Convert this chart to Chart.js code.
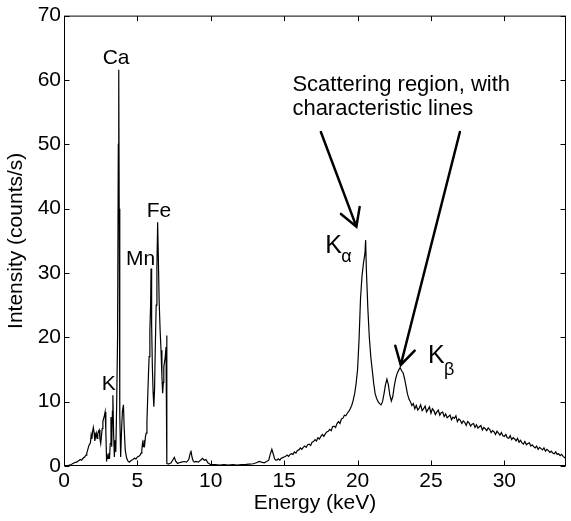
<!DOCTYPE html>
<html>
<head>
<meta charset="utf-8">
<script src="https://cdn.jsdelivr.net/npm/chart.js@4.4.1/dist/chart.umd.min.js"></script>
<style>
  html, body { margin: 0; padding: 0; background: #fff; }
  #wrap { width: 571px; height: 521px; }
</style>
</head>
<body>
<div id="wrap"><canvas id="spectrum" width="571" height="521"></canvas></div>
<script>
// tick labels
const energyTicks = [0, 5, 10, 15, 20, 25, 30];
const intensityTicks = [0, 10, 20, 30, 40, 50, 60, 70];

// fluorescence lines (keV / counts per s)
const lowEnergy = [
  0.0, 0.15, 0.3, 0.45, 0.55, 0.7, 0.85, 1.0, 1.1, 1.2, 1.3, 1.4, 1.5, 1.55, 1.6, 1.7, 1.8, 1.85, 1.9, 1.95,
  2.0, 2.05, 2.1, 2.15, 2.2, 2.25, 2.3, 2.35, 2.4, 2.45, 2.5, 2.55, 2.6, 2.65, 2.7, 2.75, 2.8, 2.85, 2.9, 2.95,
  3.0, 3.05, 3.1, 3.15, 3.2, 3.25, 3.3, 3.33, 3.38, 3.43, 3.48, 3.53, 3.59, 3.65, 3.7, 3.73, 3.76, 3.8, 3.86, 3.92,
  3.98, 4.05, 4.1, 4.17, 4.27, 4.35, 4.45, 4.5, 4.6, 4.7, 4.8, 4.9, 5.0, 5.1, 5.18, 5.25, 5.3, 5.35, 5.4, 5.45,
  5.5, 5.55, 5.6, 5.65, 5.7, 5.75, 5.8, 5.85, 5.9, 5.93, 5.97, 6.02, 6.07, 6.12, 6.17, 6.22, 6.28, 6.33, 6.38, 6.43,
  6.48, 6.55, 6.61, 6.67, 6.72, 6.77, 6.8, 6.85, 6.9, 6.95, 7.0, 7.01
];
const lowCounts = [
  0.0, 0.05, 0.1, 0.2, 0.3, 0.5, 0.6, 0.8, 1.0, 0.9, 1.2, 1.4, 1.7, 2.0, 2.4, 3.2, 3.6, 4.8, 4.2, 5.4,
  6.0, 5.2, 3.9, 4.6, 5.1, 4.3, 5.0, 5.4, 5.6, 4.2, 3.5, 4.6, 5.8, 6.9, 7.4, 7.8, 8.4, 5.5, 0.7, 1.6,
  1.2, 2.0, 1.1, 3.5, 7.6, 3.0, 8.5, 11.0, 5.0, 1.4, 4.0, 2.2, 9.8, 20.0, 50.0, 61.6, 40.0, 8.0, 1.4, 5.5,
  8.5, 9.5, 6.0, 2.5, 1.2, 0.8, 0.6, 0.7, 0.9, 1.0, 1.2, 1.1, 1.4, 1.5, 1.7, 2.0, 2.5, 3.6, 3.0, 4.0,
  3.4, 4.6, 5.1, 7.0, 10.5, 14.0, 17.0, 21.0, 25.0, 30.7, 22.0, 15.4, 11.5, 9.2, 12.0, 18.5, 25.0, 31.0, 37.9, 32.0,
  25.8, 21.0, 18.0, 14.0, 11.3, 13.0, 15.4, 16.2, 17.0, 18.5, 20.3, 0.4
];

// weak lines above the Fe edge
const midEnergy = [
  7.1, 7.2, 7.3, 7.4, 7.52, 7.6, 7.74, 7.85, 8.0, 8.2, 8.35, 8.5, 8.6, 8.65, 8.72, 8.8, 8.88, 9.0, 9.15, 9.3,
  9.44, 9.55, 9.67, 9.8, 10.0, 10.3, 10.6, 10.9, 11.2, 11.5, 11.8, 12.1, 12.4, 12.62, 12.9, 13.1, 13.3, 13.45, 13.64, 13.8,
  13.95, 14.05, 14.16, 14.25, 14.35, 14.43
];
const midCounts = [
  0.3, 0.4, 0.5, 0.9, 1.35, 0.8, 0.4, 0.5, 0.6, 0.7, 0.6, 1.0, 2.0, 2.4, 1.4, 0.8, 0.6, 0.7, 0.6, 0.9,
  1.2, 0.9, 1.0, 0.5, 0.2, 0.2, 0.15, 0.2, 0.15, 0.2, 0.15, 0.2, 0.25, 0.3, 0.35, 0.5, 0.7, 0.6, 0.5, 0.7,
  0.9, 1.8, 2.6, 1.9, 1.1, 0.9
];

// scattering region
const scatterEnergy = [
  14.5, 14.6, 14.7, 14.8, 14.9,
  15.0, 15.1, 15.2, 15.3, 15.4, 15.5, 15.6, 15.7, 15.8, 15.9,
  16.0, 16.1, 16.2, 16.3, 16.4, 16.5, 16.6, 16.7, 16.8, 16.9,
  17.0, 17.1, 17.2, 17.3, 17.4, 17.5, 17.6, 17.7, 17.8, 17.9,
  18.0, 18.1, 18.2, 18.3, 18.4, 18.5, 18.6, 18.7, 18.8, 18.9,
  19.0, 19.1, 19.2, 19.3, 19.4, 19.5, 19.6, 19.7, 19.8, 19.9,
  20.0, 20.1, 20.2, 20.3, 20.4, 20.5, 20.55, 20.6, 20.7, 20.8, 20.9,
  21.0, 21.1, 21.2, 21.3, 21.4, 21.5, 21.6, 21.7, 21.8, 21.9,
  22.0, 22.1, 22.2, 22.3, 22.4, 22.5, 22.6, 22.7, 22.8, 22.9,
  23.0, 23.1, 23.2, 23.3, 23.4, 23.5, 23.6, 23.7, 23.8, 23.9,
  24.0, 24.1, 24.2, 24.3, 24.4, 24.5, 24.6, 24.7, 24.8, 24.9,
  25.0, 25.1, 25.2, 25.3, 25.4, 25.5, 25.6, 25.7, 25.8, 25.9,
  26.0, 26.1, 26.2, 26.3, 26.4, 26.5, 26.6, 26.7, 26.8, 26.9,
  27.0, 27.1, 27.2, 27.3, 27.4, 27.5, 27.6, 27.7, 27.8, 27.9,
  28.0, 28.1, 28.2, 28.3, 28.4, 28.5, 28.6, 28.7, 28.8, 28.9,
  29.0, 29.1, 29.2, 29.3, 29.4, 29.5, 29.6, 29.7, 29.8, 29.9,
  30.0, 30.1, 30.2, 30.3, 30.4, 30.5, 30.6, 30.7, 30.8, 30.9,
  31.0, 31.1, 31.2, 31.3, 31.4, 31.5, 31.6, 31.7, 31.8, 31.9,
  32.0, 32.1, 32.2, 32.3, 32.4, 32.5, 32.6, 32.7, 32.8, 32.9,
  33.0, 33.1, 33.2, 33.3, 33.4, 33.5, 33.6, 33.7, 33.8, 33.9,
  34.0, 34.1, 34.2
];
const scatterCounts = [
  0.9, 1.1, 0.9, 1.2, 1.3,
  1.4, 1.5, 1.7, 1.5, 1.8, 1.9, 1.8, 2.2, 2.0, 2.4,
  2.5, 2.8, 2.6, 2.9, 3.1, 2.9, 3.3, 3.4, 3.2, 3.7,
  3.8, 4.1, 3.9, 4.4, 4.2, 4.6, 4.9, 4.6, 5.0, 5.3,
  5.4, 5.7, 5.5, 6.1, 6.2, 6.0, 6.6, 6.9, 6.6, 7.3,
  7.4, 7.9, 7.8, 8.2, 8.5, 8.9, 9.4, 10.2, 11.2, 12.8,
  15.0, 19.6, 26.0, 29.5, 31.5, 33.0, 35.1, 30.5, 24.5, 20.0, 17.0,
  14.9, 12.8, 11.2, 10.5, 10.0, 9.7, 9.5, 10.0, 11.2, 12.6,
  13.5, 12.6, 11.0, 10.1, 10.8, 12.4, 13.6, 14.4, 14.9, 15.3,
  14.8, 14.5, 13.6, 12.4, 11.2, 10.4, 10.0, 9.4, 9.7, 8.9,
  9.4, 8.7, 9.0, 9.5, 8.6, 8.9, 9.3, 8.4, 8.8, 9.2,
  8.2, 8.9, 8.6, 8.0, 8.4, 8.7, 7.9, 8.3, 8.4, 7.7,
  8.1, 7.5, 7.7, 7.9, 7.2, 7.6, 7.4, 7.8, 6.9, 7.3,
  7.1, 6.6, 7.0, 6.8, 6.3, 6.9, 6.7, 6.2, 6.5, 6.6,
  6.0, 6.4, 5.9, 6.1, 6.3, 5.6, 6.0, 5.8, 5.5, 5.9,
  5.7, 5.2, 5.5, 5.3, 4.9, 5.4, 5.1, 4.8, 5.2, 4.7,
  4.6, 4.9, 4.4, 4.3, 4.7, 4.1, 4.4, 4.2, 3.9, 4.3,
  3.7, 4.0, 3.6, 3.4, 3.8, 3.3, 3.5, 3.6, 3.1, 3.3,
  3.0, 2.8, 3.1, 2.6, 2.9, 2.7, 2.5, 2.8, 2.3, 2.6,
  2.4, 2.1, 2.3, 2.0, 1.9, 2.2, 1.8, 1.9, 1.6, 1.8,
  1.5, 1.3, 1.4
];

const energy = lowEnergy.concat(midEnergy, scatterEnergy);
const counts = lowCounts.concat(midCounts, scatterCounts);
const points = energy.map((e, i) => ({ x: e, y: counts[i] }));

const FONT = '"Liberation Sans", Arial, sans-serif';

// box, inward ticks, labels and arrows, in the manner of the original figure
const framePlugin = {
  id: 'frame',
  afterDatasetsDraw(chart) {
    const { ctx, chartArea: a, scales: { x, y } } = chart;
    const L = a.left + 0.5, R = a.right - 0.5, T = a.top + 0.5, B = a.bottom - 0.5;
    ctx.save();
    ctx.strokeStyle = '#000';
    ctx.lineWidth = 1;
    ctx.strokeRect(L, T, R - L, B - T);
    ctx.beginPath();
    energyTicks.forEach(v => {
      const px = Math.round(x.getPixelForValue(v)) + 0.5;
      ctx.moveTo(px, B); ctx.lineTo(px, B - 5);
      ctx.moveTo(px, T); ctx.lineTo(px, T + 5);
    });
    intensityTicks.forEach(v => {
      const py = Math.round(y.getPixelForValue(v)) + 0.5;
      ctx.moveTo(L, py); ctx.lineTo(L + 5, py);
      ctx.moveTo(R, py); ctx.lineTo(R - 5, py);
    });
    ctx.stroke();

    const px = e => x.getPixelForValue(e);
    const py = c => y.getPixelForValue(c);

    ctx.fillStyle = '#000';
    ctx.textBaseline = 'alphabetic';
    ctx.font = '21px ' + FONT;
    ctx.textAlign = 'center';
    ctx.fillText('Ca', px(3.55), py(62.5));
    ctx.textAlign = 'left';
    ctx.fillText('K', px(2.57), py(11.8));
    ctx.fillText('Mn', px(4.23), py(31.2));
    ctx.fillText('Fe', px(5.63), py(38.7));
    ctx.font = '22px ' + FONT;
    ctx.fillText('Scattering region, with', px(15.56), py(58.3));
    ctx.fillText('characteristic lines', px(15.56), py(54.5));

    // K alpha / K beta
    ctx.font = '25px ' + FONT;
    ctx.fillText('K', px(17.79), py(33.1));
    ctx.fillText('K', px(24.8), py(16.0));
    ctx.font = '18px ' + FONT;
    ctx.fillText('α', px(18.88), py(31.7));
    ctx.fillText('β', px(25.88), py(14.1));

    const arrow = (e0, c0, e1, c1) => {
      const x0 = px(e0), y0 = py(c0), x1 = px(e1), y1 = py(c1);
      const ang = Math.atan2(y0 - y1, x0 - x1);
      const len = 20, spread = Math.PI / 6;
      ctx.beginPath();
      ctx.moveTo(x0, y0); ctx.lineTo(x1, y1);
      ctx.moveTo(x1 + len * Math.cos(ang - spread), y1 + len * Math.sin(ang - spread));
      ctx.lineTo(x1, y1);
      ctx.lineTo(x1 + len * Math.cos(ang + spread), y1 + len * Math.sin(ang + spread));
      ctx.stroke();
    };
    ctx.lineWidth = 2.5;
    ctx.lineCap = 'round';
    arrow(17.5, 51.9, 19.92, 37.2);
    arrow(26.97, 51.9, 22.94, 15.7);
    ctx.restore();
  }
};

new Chart(document.getElementById('spectrum'), {
  type: 'line',
  data: {
    datasets: [{
      data: points,
      borderColor: '#000',
      borderWidth: 1.2,
      pointRadius: 0,
      tension: 0,
      fill: false
    }]
  },
  options: {
    responsive: false,
    animation: false,
    devicePixelRatio: 1,
    layout: {
      padding: { top: 15, right: 5, left: 0, bottom: 0 }
    },
    plugins: {
      legend: { display: false },
      tooltip: { enabled: false }
    },
    scales: {
      x: {
        type: 'linear',
        min: 0,
        max: 34.2,
        afterBuildTicks: s => { s.ticks = energyTicks.map(v => ({ value: v })); },
        afterFit: s => { s.height = 55; },
        grid: { display: false, drawTicks: false },
        border: { display: false },
        ticks: { color: '#000', padding: 3, font: { family: FONT, size: 21 } },
        title: {
          display: true,
          text: 'Energy (keV)',
          color: '#000',
          font: { family: FONT, size: 21 },
          padding: { top: 0, bottom: 5 }
        }
      },
      y: {
        min: 0,
        max: 70,
        afterBuildTicks: s => { s.ticks = intensityTicks.map(v => ({ value: v })); },
        afterFit: s => { s.width = 64; },
        grid: { display: false, drawTicks: false },
        border: { display: false },
        ticks: { color: '#000', padding: 3, font: { family: FONT, size: 21 } },
        title: {
          display: true,
          text: 'Intensity (counts/s)',
          color: '#000',
          font: { family: FONT, size: 21 },
          padding: { top: 4, bottom: 0 }
        }
      }
    }
  },
  plugins: [framePlugin]
});
</script>
</body>
</html>
